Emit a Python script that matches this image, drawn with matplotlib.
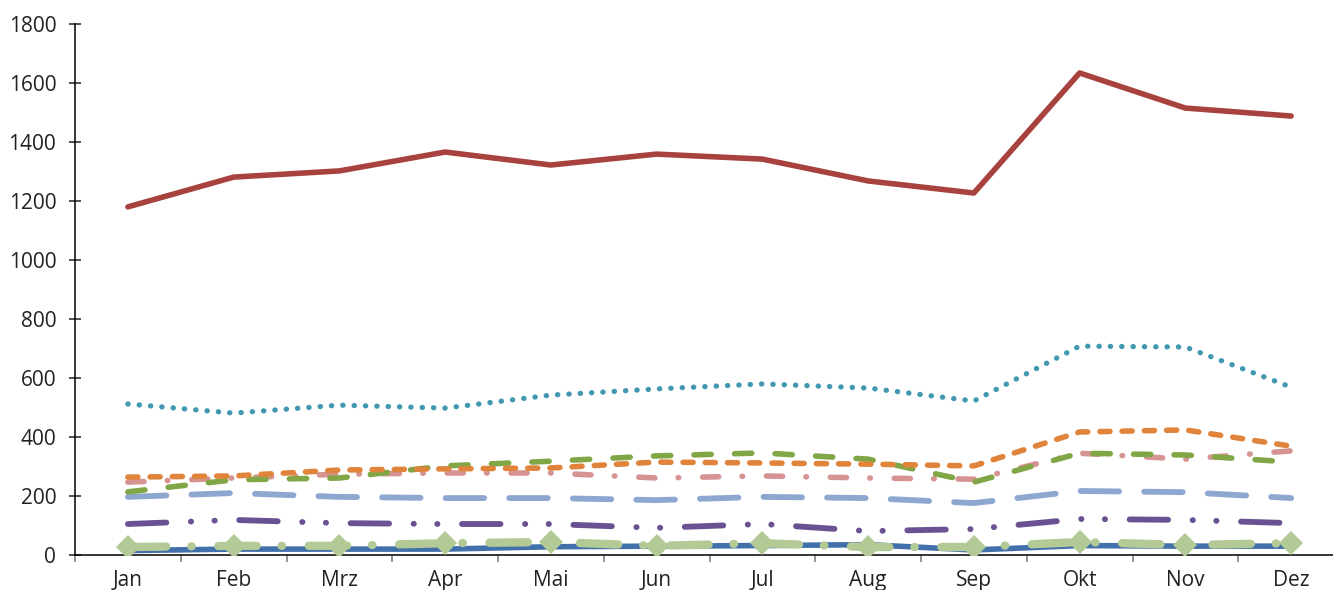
import matplotlib
matplotlib.use("Agg")
import matplotlib.pyplot as plt
import numpy as np

months = ["Jan", "Feb", "Mrz", "Apr", "Mai", "Jun", "Jul", "Aug", "Sep", "Okt", "Nov", "Dez"]

red = [1180, 1281, 1302, 1366, 1322, 1359, 1342, 1268, 1227, 1634, 1515, 1488]
teal = [512, 481, 508, 498, 542, 563, 580, 566, 522, 708, 705, 569]
orange = [264, 268, 288, 292, 295, 315, 312, 308, 302, 417, 424, 369]
green = [214, 255, 261, 302, 318, 336, 346, 325, 247, 345, 339, 315]
pink = [247, 261, 274, 278, 278, 261, 268, 261, 257, 345, 325, 353]
lightblue = [197, 210, 197, 193, 193, 186, 197, 193, 176, 217, 213, 193]
purple = [105, 119, 108, 105, 105, 92, 105, 81, 88, 122, 119, 108]
darkblue = [15, 20, 20, 20, 28, 30, 32, 35, 17, 32, 30, 30]
lightgreen = [27, 31, 31, 40, 44, 31, 40, 27, 27, 44, 34, 40]

plt.rcParams['font.family'] = ['Open Sans', 'DejaVu Sans']

fig = plt.figure(figsize=(13.33, 5.9), dpi=100)
ax = fig.add_axes([75 / 1333, 1 - 555 / 590, 1269 / 1333, 531 / 590])

x = np.arange(len(months))

ax.plot(x, darkblue, color="#4170AA", lw=4.0, solid_capstyle="round", zorder=3)
ax.plot(x, purple, color="#6A5192", lw=4.2, dashes=(6.6, 4.2, 0.05, 4.0, 0.05, 4.2),
        dash_capstyle="round", zorder=3)
ax.plot(x, lightblue, color="#8EA7D0", lw=4.2, dashes=(6.6, 4.3),
        dash_capstyle="round", zorder=3)
ax.plot(x, pink, color="#D59392", lw=4.0, dashes=(2.9, 4.2, 0.1, 4.3),
        dash_capstyle="round", zorder=3)
ax.plot(x, green, color="#80A646", lw=4.0, dashes=(3.1, 4.2),
        dash_capstyle="round", zorder=3)
ax.plot(x, orange, color="#E0843B", lw=4.0, dashes=(1.8, 2.2),
        dash_capstyle="round", zorder=3)
ax.plot(x, teal, color="#4198AF", lw=3.8, dashes=(0.05, 2.1),
        dash_capstyle="round", zorder=3)
ax.plot(x, red, color="#A8423F", lw=4.0, solid_capstyle="round", zorder=3)
ax.plot(x, lightgreen, color="#B3CA96", lw=6.0, dashes=(4.6, 3.0, 0.05, 3.2),
        dash_capstyle="round", marker="D", markersize=12, markeredgewidth=0,
        zorder=4)

ax.set_xlim(-0.5, 11.5)
ax.set_ylim(0, 1800)
ax.set_yticks(np.arange(0, 1801, 200))
ax.set_xticks(x)
ax.set_xticklabels(months)
ax.set_xticks(np.arange(-0.5, 12, 1), minor=True)

for side in ["top", "right"]:
    ax.spines[side].set_visible(False)
for side in ["left", "bottom"]:
    ax.spines[side].set_linewidth(1.1)
    ax.spines[side].set_color("#000000")

ax.tick_params(axis="x", which="major", length=0, pad=11, labelsize=15, labelcolor="#222222")
ax.tick_params(axis="x", which="minor", length=5, width=1.1, direction="out", color="#777777")
ax.tick_params(axis="y", length=9, width=1.1, direction="inout", pad=9,
               labelsize=15, labelcolor="#222222", color="#222222")

fig.savefig("out.png", dpi=100)
